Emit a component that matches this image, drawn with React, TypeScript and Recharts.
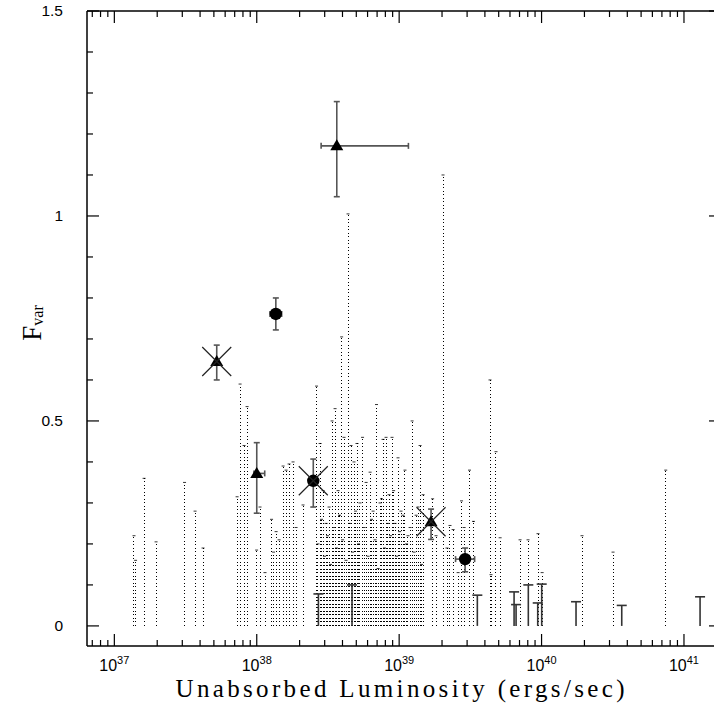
import React from 'react';
import { ComposedChart, XAxis, YAxis, Scatter, ErrorBar } from 'recharts';

// axis ranges (x in log10 erg/s, y in Fvar)
const X_MIN_LOG = 36.808;
const X_MAX_LOG = 41.26;
const Y_MIN = -0.049;
const Y_MAX = 1.5;

const decades = [36, 37, 38, 39, 40, 41];
const minorMultipliers = [2, 3, 4, 5, 6, 7, 8, 9];
const yMajorTicks = [0, 0.5, 1, 1.5];
const yMinorTicks = [0.1, 0.2, 0.3, 0.4, 0.6, 0.7, 0.8, 0.9, 1.1, 1.2, 1.3, 1.4];

// dotted upper limits: log10 L and Fvar limit
const dottedLogL = [
  37.138, 37.149, 37.209, 37.293, 37.493, 37.567, 37.623, 37.862, 37.883, 37.911,
  37.932, 37.999, 38.023, 38.058, 38.104, 38.118, 38.136, 38.157, 38.185, 38.206,
  38.227, 38.255, 38.276, 38.325, 38.42, 38.43, 38.445, 38.455, 38.466, 38.476,
  38.487, 38.497, 38.508, 38.518, 38.529, 38.539, 38.55, 38.56, 38.571, 38.581,
  38.596, 38.603, 38.613, 38.627, 38.641, 38.652, 38.662, 38.673, 38.683, 38.694,
  38.704, 38.715, 38.725, 38.743, 38.754, 38.768, 38.782, 38.796, 38.806, 38.817,
  38.831, 38.841, 38.852, 38.866, 38.876, 38.887, 38.897, 38.908, 38.919, 38.929,
  38.94, 38.95, 38.961, 38.971, 38.982, 38.992, 39.003, 39.013, 39.027, 39.041,
  39.052, 39.062, 39.077, 39.091, 39.105, 39.119, 39.133, 39.147, 39.157, 39.168,
  39.235, 39.259, 39.308, 39.336, 39.357, 39.379, 39.414, 39.438, 39.456, 39.494,
  39.522, 39.638, 39.645, 39.68, 39.709, 39.849, 39.905, 39.975, 40.004, 40.284,
  40.502, 40.872,
];
const dottedFvar = [
  0.22, 0.16, 0.36, 0.205, 0.35, 0.28, 0.19, 0.315, 0.59, 0.44,
  0.535, 0.185, 0.29, 0.13, 0.26, 0.18, 0.23, 0.21, 0.39, 0.38,
  0.395, 0.4, 0.24, 0.295, 0.585, 0.2, 0.445, 0.26, 0.33, 0.17,
  0.25, 0.22, 0.29, 0.15, 0.5, 0.24, 0.53, 0.19, 0.33, 0.27,
  0.705, 0.21, 0.46, 0.16, 1.005, 0.25, 0.44, 0.18, 0.4, 0.28,
  0.445, 0.2, 0.3, 0.46, 0.24, 0.35, 0.17, 0.375, 0.26, 0.28,
  0.21, 0.54, 0.14, 0.3, 0.31, 0.455, 0.19, 0.46, 0.25, 0.32,
  0.22, 0.46, 0.33, 0.25, 0.17, 0.41, 0.23, 0.28, 0.27, 0.38,
  0.2, 0.22, 0.24, 0.5, 0.18, 0.27, 0.29, 0.44, 0.15, 0.32,
  0.31, 0.22, 1.1, 0.19, 0.245, 0.235, 0.13, 0.305, 0.24, 0.38,
  0.255, 0.6, 0.125, 0.425, 0.215, 0.21, 0.21, 0.225, 0.13, 0.22,
  0.18, 0.38,
];

// solid upper limits
const limitLogL = [38.433, 38.669, 39.549, 39.807, 39.821, 39.907, 39.973, 40.001, 40.242, 40.563, 41.113];
const limitFvar = [0.078, 0.1, 0.075, 0.083, 0.052, 0.1, 0.056, 0.102, 0.059, 0.05, 0.071];

// detections with errors
const pointLogL = [37.719, 38.134, 38.0, 38.562, 38.397, 39.224, 39.463];
const pointLogLLow = [37.719, 38.093, 37.98, 38.452, 38.37, 39.224, 39.396];
const pointLogLHigh = [37.719, 38.175, 38.056, 39.065, 38.425, 39.224, 39.53];
const pointFvar = [0.645, 0.761, 0.372, 1.171, 0.354, 0.254, 0.163];
const pointFLow = [0.6, 0.722, 0.275, 1.047, 0.29, 0.211, 0.132];
const pointFHigh = [0.685, 0.8, 0.447, 1.279, 0.407, 0.285, 0.19];
const pointShape = ['triangle', 'circle', 'triangle', 'triangle', 'circle', 'triangle', 'circle'];
const pointCrossed = [true, false, false, false, true, true, false];

const dottedData = dottedLogL.map((l, i) => ({ x: 10 ** l, y: dottedFvar[i], err: [dottedFvar[i], 0] }));
const limitData = limitLogL.map((l, i) => ({ x: 10 ** l, y: limitFvar[i], err: [limitFvar[i], 0] }));
const pointData = pointLogL.map((l, i) => {
  const x = 10 ** l;
  return {
    x,
    y: pointFvar[i],
    errY: [pointFvar[i] - pointFLow[i], pointFHigh[i] - pointFvar[i]],
    errX: [x - 10 ** pointLogLLow[i], 10 ** pointLogLHigh[i] - x],
    shape: pointShape[i],
    crossed: pointCrossed[i],
  };
});

const xDomain = [10 ** X_MIN_LOG, 10 ** X_MAX_LOG];
const xTicks: number[] = [];
decades.forEach((d) => {
  if (d >= X_MIN_LOG) xTicks.push(10 ** d);
  minorMultipliers.forEach((m) => {
    const lg = d + Math.log10(m);
    if (lg > X_MIN_LOG && lg < X_MAX_LOG) xTicks.push(m * 10 ** d);
  });
});
const yTicks = [...yMajorTicks, ...yMinorTicks].sort((a, b) => a - b);

const SANS = 'Liberation Sans, Arial, sans-serif';
const SERIF = 'Liberation Serif, Times New Roman, serif';

const isMajorX = (v: number) => {
  const lg = Math.log10(v);
  return Math.abs(lg - Math.round(lg)) < 1e-6;
};
const isMajorY = (v: number) => yMajorTicks.includes(v);

const BottomTick = (props: any) => {
  const { x, y, payload } = props;
  const major = isMajorX(payload.value);
  return (
    <g>
      <line x1={x} y1={y} x2={x} y2={y - (major ? 12 : 6)} stroke="#000" strokeWidth={1.2} />
      {major && (
        <text x={x} y={y + 25} textAnchor="middle" fontFamily={SANS} fontSize={16} fill="#000">
          10
          <tspan fontSize={11} dy={-7}>{Math.round(Math.log10(payload.value))}</tspan>
        </text>
      )}
    </g>
  );
};

const TopTick = (props: any) => {
  const { x, y, payload } = props;
  const major = isMajorX(payload.value);
  return <line x1={x} y1={y} x2={x} y2={y + (major ? 12 : 6)} stroke="#000" strokeWidth={1.2} />;
};

const LeftTick = (props: any) => {
  const { x, y, payload } = props;
  const major = isMajorY(payload.value);
  return (
    <g>
      <line x1={x} y1={y} x2={x + (major ? 12 : 6)} y2={y} stroke="#000" strokeWidth={1.2} />
      {major && (
        <text x={x - 24} y={y + 5} textAnchor="end" fontFamily={SANS} fontSize={15.5} fill="#000">
          {payload.value}
        </text>
      )}
    </g>
  );
};

const RightTick = (props: any) => {
  const { x, y, payload } = props;
  const major = isMajorY(payload.value);
  return <line x1={x} y1={y} x2={x - (major ? 12 : 6)} y2={y} stroke="#000" strokeWidth={1.2} />;
};

const YLabel = (props: any) => {
  const vb = props.viewBox || { x: 86, width: 1 };
  const x = vb.x + vb.width - 46;
  const y = 323;
  return (
    <text x={x} y={y} transform={`rotate(-90, ${x}, ${y})`} textAnchor="middle" fontFamily={SERIF} fill="#000">
      <tspan fontSize={27}>F</tspan>
      <tspan fontSize={16} dy={2}>var</tspan>
    </text>
  );
};

const XLabel = (props: any) => {
  const vb = props.viewBox || { x: 87, y: 646, width: 634 };
  return (
    <text
      x={400}
      y={vb.y + 51}
      textAnchor="middle"
      fontFamily={SERIF}
      fontSize={25}
      textLength={449}
      lengthAdjust="spacing"
      fill="#000"
    >
      Unabsorbed Luminosity (ergs/sec)
    </text>
  );
};

const DotCap = (p: any) => (
  <line x1={p.cx - 1.5} x2={p.cx + 1.5} y1={p.cy} y2={p.cy} stroke="#000" strokeWidth={0.8} />
);

const LimitCap = (p: any) => (
  <line x1={p.cx - 5} x2={p.cx + 5} y1={p.cy} y2={p.cy} stroke="#333" strokeWidth={1.6} />
);

const Marker = (p: any) => {
  const { cx, cy, payload } = p;
  return (
    <g>
      {payload.shape === 'triangle' ? (
        <polygon points={`${cx},${cy - 6.5} ${cx - 6.5},${cy + 4.5} ${cx + 6.5},${cy + 4.5}`} fill="#000" />
      ) : (
        <circle cx={cx} cy={cy} r={6.2} fill="#000" />
      )}
      {payload.crossed && (
        <path
          d={`M${cx - 14.5},${cy - 14.5}L${cx + 14.5},${cy + 14.5}M${cx - 14.5},${cy + 14.5}L${cx + 14.5},${cy - 14.5}`}
          stroke="#222"
          strokeWidth={1.2}
        />
      )}
    </g>
  );
};

export default function App() {
  return (
    <div style={{ position: 'absolute', left: 0, top: 0, width: 714, height: 706, overflow: 'hidden', background: '#fff' }}>
      <ComposedChart width={730} height={706} margin={{ top: 10, right: 8, bottom: 59, left: 86 }}>
        <XAxis
          xAxisId="b"
          dataKey="x"
          type="number"
          scale="log"
          domain={xDomain}
          allowDataOverflow
          ticks={xTicks}
          interval={0}
          height={1}
          tickSize={0}
          tickMargin={0}
          tickLine={false}
          tick={<BottomTick />}
          axisLine={{ stroke: '#000', strokeWidth: 1.5 }}
          label={<XLabel />}
        />
        <XAxis
          xAxisId="t"
          orientation="top"
          dataKey="x"
          type="number"
          scale="log"
          domain={xDomain}
          allowDataOverflow
          ticks={xTicks}
          interval={0}
          height={1}
          tickSize={0}
          tickMargin={0}
          tickLine={false}
          tick={<TopTick />}
          axisLine={{ stroke: '#000', strokeWidth: 1.5 }}
        />
        <YAxis
          yAxisId="l"
          dataKey="y"
          type="number"
          domain={[Y_MIN, Y_MAX]}
          allowDataOverflow
          ticks={yTicks}
          interval={0}
          width={1}
          tickSize={0}
          tickMargin={0}
          tickLine={false}
          tick={<LeftTick />}
          axisLine={{ stroke: '#000', strokeWidth: 1.5 }}
          label={<YLabel />}
        />
        <YAxis
          yAxisId="r"
          orientation="right"
          dataKey="y"
          type="number"
          domain={[Y_MIN, Y_MAX]}
          allowDataOverflow
          ticks={yTicks}
          interval={0}
          width={1}
          tickSize={0}
          tickMargin={0}
          tickLine={false}
          tick={<RightTick />}
          axisLine={{ stroke: '#000', strokeWidth: 1.5 }}
        />
        <Scatter xAxisId="b" yAxisId="l" data={dottedData} shape={DotCap} isAnimationActive={false}>
          <ErrorBar
            dataKey="err"
            direction="y"
            width={0}
            stroke="#000"
            strokeWidth={1}
            strokeDasharray="1.3 2.2"
            shapeRendering="crispEdges"
            isAnimationActive={false}
          />
        </Scatter>
        <Scatter xAxisId="b" yAxisId="l" data={limitData} shape={LimitCap} isAnimationActive={false}>
          <ErrorBar dataKey="err" direction="y" width={0} stroke="#333" strokeWidth={1.6} isAnimationActive={false} />
        </Scatter>
        <Scatter xAxisId="b" yAxisId="l" data={pointData} shape={Marker} isAnimationActive={false}>
          <ErrorBar dataKey="errY" direction="y" width={3} stroke="#555" strokeWidth={1.6} isAnimationActive={false} />
          <ErrorBar dataKey="errX" direction="x" width={3} stroke="#555" strokeWidth={1.6} isAnimationActive={false} />
        </Scatter>
      </ComposedChart>
    </div>
  );
}
